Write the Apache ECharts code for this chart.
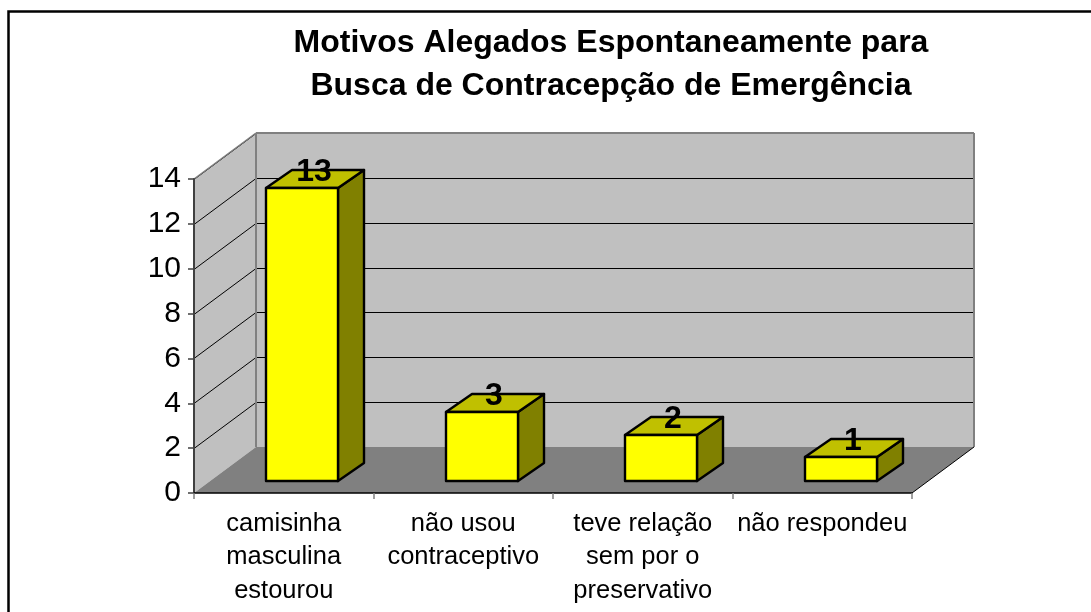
<!DOCTYPE html>
<html><head><meta charset="utf-8">
<style>html,body{margin:0;padding:0;background:#fff}#c{width:1091px;height:612px}</style>
<script src="https://cdn.jsdelivr.net/npm/echarts@6/dist/echarts.min.js"></script>
</head><body><div id="c"></div>
<script>
const titleText = "Motivos Alegados Espontaneamente para\nBusca de Contracepção de Emergência";
const categories = ["camisinha\nmasculina\nestourou", "não usou\ncontraceptivo", "teve relação\nsem por o\npreservativo", "não respondeu"];
const values = [13, 3, 2, 1];
const yTicks = [0, 2, 4, 6, 8, 10, 12, 14];
const FONT = '"Liberation Sans", Arial, sans-serif';
const DEPTH_X = 62, DEPTH_Y = 46;   // chart box depth
const BAR_DX = 26, BAR_DY = 18;       // bar depth
const chart = echarts.init(document.getElementById('c'), null, {renderer:'canvas'});

function renderBox(params, api) {
  const cs = params.coordSys;
  const l = cs.x, r = cs.x + cs.width, t = cs.y, b = cs.y + cs.height;
  const children = [];
  const poly = (pts, fill, stroke, lw) => ({type:'polygon', shape:{points:pts},
    style:{fill:fill, stroke:stroke||null, lineWidth:lw||0}});
  const line = (x1,y1,x2,y2,stroke,lw) => ({type:'line', shape:{x1,y1,x2,y2},
    style:{stroke:stroke, lineWidth:lw||1}});
  // side wall, back wall, floor
  children.push(poly([[l,b],[l,t],[l+DEPTH_X,t-DEPTH_Y],[l+DEPTH_X,b-DEPTH_Y]], '#C0C0C0'));
  children.push(poly([[l+DEPTH_X,t-DEPTH_Y],[r+DEPTH_X,t-DEPTH_Y],[r+DEPTH_X,b-DEPTH_Y],[l+DEPTH_X,b-DEPTH_Y]], '#C0C0C0'));
  children.push(poly([[l,b],[l+DEPTH_X,b-DEPTH_Y],[r+DEPTH_X,b-DEPTH_Y],[r,b]], '#808080'));
  // grid lines
  yTicks.forEach(v => {
    if (v === 0) return;
    const y = Math.round(api.coord([0, v])[1]) + 0.5;
    children.push(line(l, y, l+DEPTH_X, y-DEPTH_Y, '#000', 1));
    children.push(line(l+DEPTH_X, y-DEPTH_Y, r+DEPTH_X, y-DEPTH_Y, '#000', 1));
  });
  // wall edges
  children.push(line(l, t, l+DEPTH_X, t-DEPTH_Y, '#808080', 1.5));
  children.push(line(l+DEPTH_X, t-DEPTH_Y, r+DEPTH_X, t-DEPTH_Y, '#808080', 2));
  children.push(line(l+DEPTH_X, t-DEPTH_Y, l+DEPTH_X, b-DEPTH_Y, '#808080', 2));
  children.push(line(r+DEPTH_X, t-DEPTH_Y, r+DEPTH_X, b-DEPTH_Y, '#808080', 2));
  children.push(line(r, b, r+DEPTH_X, b-DEPTH_Y, '#000', 1));
  return {type:'group', children};
}

function renderBar(params, api) {
  const band = api.size([1, 0])[0];
  const w = band * 0.4;
  const c = api.coord([api.value(0), api.value(1)]);
  const zero = api.coord([api.value(0), 0]);
  const x0 = Math.round(c[0] + 18.4 - w / 2), x1 = x0 + Math.round(w);
  const top = Math.round(c[1] - 13.5), bot = Math.round(zero[1] - 12);
  const s = {stroke:'#000', lineWidth:2.4, lineJoin:'round'};
  return {type:'group', children:[
    {type:'polygon', shape:{points:[[x1,top],[x1+BAR_DX,top-BAR_DY],[x1+BAR_DX,bot-BAR_DY],[x1,bot]]}, style:Object.assign({fill:'#808000'},s)},
    {type:'polygon', shape:{points:[[x0,top],[x0+BAR_DX,top-BAR_DY],[x1+BAR_DX,top-BAR_DY],[x1,top]]}, style:Object.assign({fill:'#C0C000'},s)},
    {type:'rect', shape:{x:x0,y:top,width:x1-x0,height:bot-top}, style:Object.assign({fill:'#FFFF00'},s)},
    {type:'text', x:(x0+x1)/2+12, y:top-16, style:{text:String(api.value(1)), fill:'#000',
      font:'bold 32px '+FONT, textAlign:'center', textVerticalAlign:'middle'}}
  ]};
}

chart.setOption({
  animation:false,
  backgroundColor:'#fff',
  title:{text:titleText, left:606, top:17, textAlign:'center',
    textStyle:{fontFamily:FONT, fontWeight:'bold', fontSize:32, lineHeight:43, color:'#000'}},
  grid:{left:194, right:179, top:179, bottom:119},
  xAxis:{type:'category', data:categories, boundaryGap:true, z:6,
    axisLine:{show:true, lineStyle:{color:'#000', width:1.5}},
    axisTick:{show:true, length:6, alignWithLabel:false, lineStyle:{color:'#808080', width:1.5}},
    axisLabel:{interval:0, margin:14, color:'#000', fontFamily:FONT, fontSize:25.5, lineHeight:33.5, align:'center'},
    splitLine:{show:false}},
  yAxis:{type:'value', min:0, max:14, interval:2, z:6,
    axisLine:{show:true, lineStyle:{color:'#404040', width:2}},
    axisTick:{show:true, length:6, lineStyle:{color:'#404040', width:1.5}},
    axisLabel:{margin:13, color:'#000', fontFamily:FONT, fontSize:30, padding:[3,0,0,0]},
    splitLine:{show:false}},
  graphic:[{type:'rect', z:100, silent:true, shape:{x:8.5,y:11.5,width:1200,height:800},
    style:{fill:'none', stroke:'#000', lineWidth:2.5}}],
  series:[
    {type:'custom', renderItem:renderBox, data:[0], z:1, silent:true, clip:false},
    {type:'custom', renderItem:renderBar, z:3, silent:true, clip:false,
      encode:{x:0,y:1},
      data:values.map((v,i)=>[i,v])}
  ]
});
</script></body></html>
